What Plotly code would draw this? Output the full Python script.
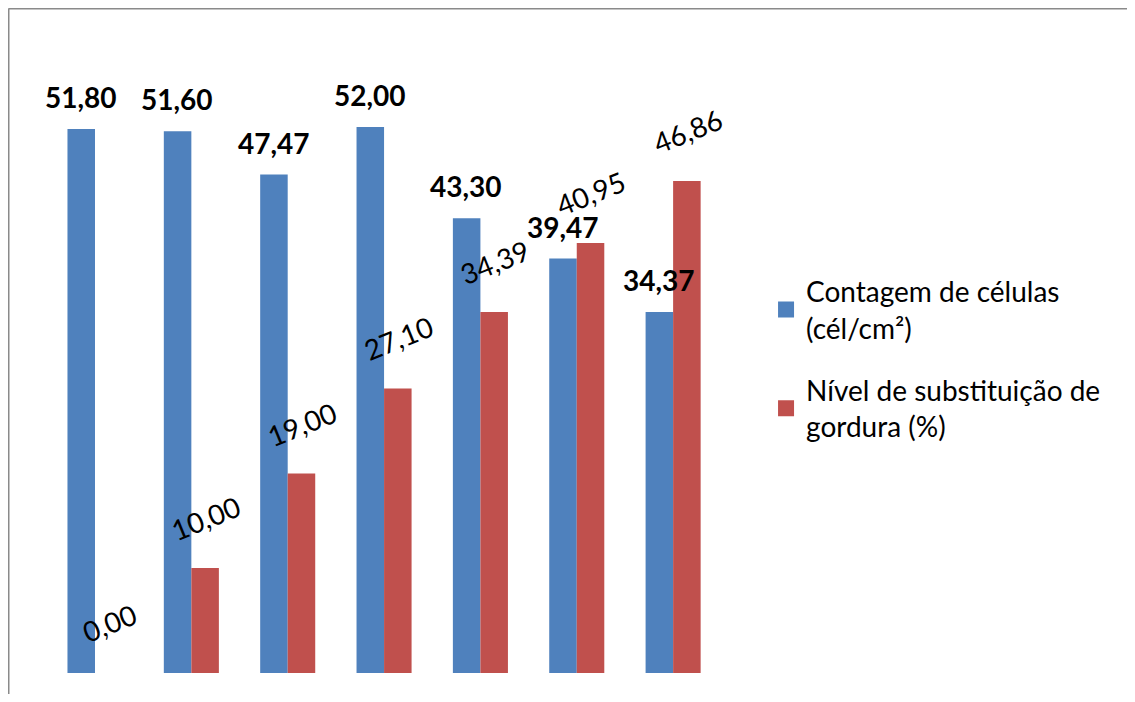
import plotly.graph_objects as go

categories = ["1", "2", "3", "4", "5", "6", "7"]
cell_count = [51.80, 51.60, 47.47, 52.00, 43.30, 39.47, 34.37]
fat_substitution = [0.00, 10.00, 19.00, 27.10, 34.39, 40.95, 46.86]
series_names = ["Contagem de células<br>(cél/cm²)", "Nível de substituição de<br>gordura (%)"]

BLUE = "#4F81BD"
RED = "#C0504D"
FONT = "Lato, 'Open Sans', sans-serif"

def fmt(v):
    return f"{v:.2f}".replace(".", ",")

fig = go.Figure()
fig.add_trace(go.Bar(x=categories, y=cell_count, name=series_names[0], showlegend=False,
                     marker=dict(color=BLUE, line=dict(width=0))))
fig.add_trace(go.Bar(x=categories, y=fat_substitution, name=series_names[1], showlegend=False,
                     marker=dict(color=RED, line=dict(width=0))))
# legend-only entries with larger square keys
for name, col, grp in [(series_names[0], BLUE, "a"), (series_names[1], RED, "b")]:
    fig.add_trace(go.Scatter(x=[None], y=[None], mode="markers", name=name, legendgroup=grp,
                             marker=dict(symbol="square", size=16, color=col, line=dict(width=0))))

annotations = []
for i, v in enumerate(cell_count):
    annotations.append(dict(x=i, y=v, xref="x", yref="y", text=f"<b>{fmt(v)}</b>",
                            showarrow=False, xshift=-14, yshift=32,
                            xanchor="center", yanchor="middle",
                            font=dict(family=FONT, size=28, color="#000000")))
for i, v in enumerate(fat_substitution):
    annotations.append(dict(x=i, y=v, xref="x", yref="y", text=fmt(v),
                            showarrow=False, xshift=14, yshift=50, textangle=-22,
                            xanchor="center", yanchor="middle",
                            font=dict(family=FONT, size=28, color="#000000")))

W, H = 1119, 686
L, T, PW, PH = 35, 35, 686, 630

fig.update_layout(
    width=W, height=H,
    margin=dict(l=L, r=W - L - PW, t=T, b=H - T - PH, autoexpand=False),
    paper_bgcolor="white", plot_bgcolor="white",
    barmode="group", bargap=0.4286, bargroupgap=0,
    xaxis=dict(type="category", showticklabels=False, showline=False, showgrid=False,
               zeroline=False, ticks=""),
    yaxis=dict(range=[0, 60], showticklabels=False, showline=False, showgrid=False,
               zeroline=False, ticks=""),
    legend=dict(x=1.054, y=0.645, xanchor="left", yanchor="top",
                font=dict(family=FONT, size=28, color="#000000"),
                bgcolor="rgba(0,0,0,0)", traceorder="grouped", tracegroupgap=23),
    annotations=annotations,
    showlegend=True,
    shapes=[
        dict(type="line", xref="paper", yref="paper", x0=(0.5 - L) / PW, x1=(0.5 - L) / PW,
             y0=-0.2, y1=1 + (T - 0.5) / PH, line=dict(color="#8a8a8a", width=2)),
        dict(type="line", xref="paper", yref="paper", x0=(0.5 - L) / PW, x1=1.8,
             y0=1 + (T - 0.5) / PH, y1=1 + (T - 0.5) / PH, line=dict(color="#8a8a8a", width=2)),
    ],
)

fig.write_html("out.html")
